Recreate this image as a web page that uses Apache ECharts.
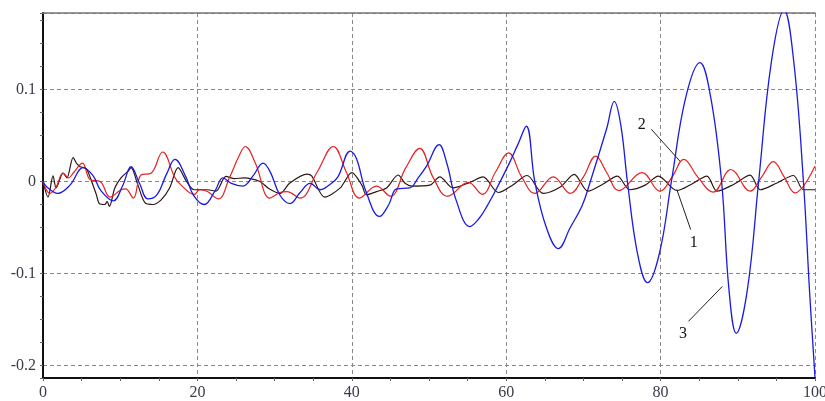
<!DOCTYPE html>
<html>
<head>
<meta charset="utf-8">
<script src="https://cdn.jsdelivr.net/npm/echarts@6/dist/echarts.min.js"></script>
<style>html,body{margin:0;padding:0;background:#fff}#c{width:825px;height:401px}</style>
</head>
<body>
<div id="c"></div>
<script>
// Curve 1 (dark)
var curve1 = [[0,0],[0.65,-0.017],[1.3,0.006],[1.7,-0.007],[2.6,0.009],[3.1,0.004],[3.9,0.026],[4.4,0.019],[4.8,0.016],[5.6,0.014],[6.3,0.0],[6.9,-0.014],[7.3,-0.024],[8,-0.025],[8.3,-0.022],[8.6,-0.027],[9.3,-0.007],[10.1,0.004],[11,0.011],[11.4,0.015],[12.3,-0.004],[13.2,-0.023],[14.25,-0.025],[15.3,-0.02],[16.4,-0.007],[17.5,0.015],[18.6,0.0],[19.6,-0.009],[21.3,-0.009],[22.4,-0.0105],[23.7,0.0055],[24.8,0.003],[26,0.004],[28.1,0],[29.3,-0.008],[30.7,-0.013],[32,-0.0015],[34.2,0.008],[34.8,0.006],[36.5,-0.017],[38.5,-0.007],[40,0.0095],[41.3,-0.004],[41.9,-0.0145],[43.2,-0.011],[44.5,-0.007],[46,0.007],[46.9,-0.002],[47.8,-0.005],[50.1,-0.004],[51.4,0.005],[53.1,-0.007],[55.3,-0.001],[57,0.005],[59,-0.012],[60.9,-0.0036],[62.7,0.0065],[64.8,-0.013],[67,-0.006],[68.8,0.0076],[70.6,-0.0106],[72.5,-0.003],[74.4,0.0058],[76,-0.009],[78,-0.004],[79.7,0.0058],[82.1,-0.0098],[84,-0.003],[86,0.0058],[87.3,-0.0106],[89.5,-0.003],[91.6,0.0069],[92.9,-0.009],[95,-0.002],[97.2,0.0065],[98.5,-0.009],[100,-0.009]];
// Curve 2 (red)
var curve2 = [[0,0],[0.9,-0.013],[1.7,-0.006],[2.6,0.009],[3.3,0.004],[4,0.010],[5.1,0.020],[6.1,0.002],[7.4,0],[8.7,-0.017],[10.1,-0.009],[10.7,-0.008],[11.7,-0.018],[12.7,0.007],[14,0.009],[15.5,0.032],[17.1,0.004],[17.9,-0.004],[19.6,-0.014],[20.3,-0.009],[21.3,-0.011],[22.7,-0.019],[24.2,0.005],[25.3,0.026],[26.2,0.038],[27.5,0.02],[29.4,-0.018],[30.7,-0.012],[31.6,-0.011],[33.3,-0.018],[35.5,0.01],[37.6,0.038],[39.3,0.01],[41,-0.018],[43.2,-0.005],[45,-0.016],[47,0.015],[48.8,0.036],[50.5,0.005],[52.4,-0.016],[55.1,-0.001],[56.9,-0.014],[58.6,0.01],[60.3,0.031],[62,0.005],[63.7,-0.013],[66.1,0.005],[68.3,-0.013],[70,0.005],[71.6,0.0276],[73,0.01],[74.6,-0.01],[77.6,0.0095],[79.9,-0.0106],[81.5,0.005],[83,0.024],[84.8,0.005],[86.8,-0.0116],[89.1,0.013],[91.6,-0.0106],[93.1,0.005],[94.6,0.0215],[96,0.005],[97.4,-0.0124],[100,0.0167]];
// Curve 3 (blue)
var curve3 = [[0,0],[0.5,-0.006],[1.9,-0.013],[3.5,-0.004],[5.2,0.015],[6.5,0.006],[7.5,-0.01],[9.1,-0.021],[10.3,-0.005],[11.4,0.016],[12.5,-0.002],[13.6,-0.019],[14.8,-0.014],[16,0.008],[17.1,0.024],[18.5,0.005],[19.5,-0.015],[20.9,-0.025],[22.3,-0.01],[23.3,0.004],[24.4,-0.002],[25.9,-0.005],[27.2,0.006],[28.5,0.020],[29.4,0.011],[30.7,-0.015],[32,-0.024],[33.3,-0.012],[34.6,-0.002],[35.9,-0.009],[37.2,-0.003],[38.2,0.005],[39.8,0.033],[40.6,0.025],[41.8,-0.01],[43.6,-0.038],[44.8,-0.025],[45.8,-0.008],[47.5,-0.007],[48.6,0.004],[49.7,0.017],[51.3,0.040],[52.3,0.02],[53.5,-0.02],[55.3,-0.049],[56.5,-0.04],[57.5,-0.027],[58.8,-0.007],[60.3,0.018],[61.5,0.04],[62.6,0.060],[63.7,0.0],[65.2,-0.05],[66.75,-0.073],[68.3,-0.05],[69.8,-0.027],[70.9,0.0],[73,0.057],[74,0.087],[74.85,0.061],[75.7,0.0],[77,-0.078],[78.3,-0.110],[79.85,-0.078],[81.4,0.0],[83.25,0.091],[85.1,0.129],[86.5,0.091],[87.9,0.0],[88.85,-0.117],[89.8,-0.165],[91.25,-0.117],[92.7,0.0],[94.35,0.13],[96,0.186],[97.25,0.13],[98.5,0.0],[99.3,-0.12],[100,-0.213]];
// x tick labels / y tick labels
var xTicks = [0, 20, 40, 60, 80, 100];
var yTickLabels = ['-0.2', '-0.1', '0', '0.1'];
// Curve number labels and leader lines [labelX, labelY, lineStartX, lineStartY, lineEndX, lineEndY]
var curveNames = ['1', '2', '3'];
var annotations = [
  [84.3, -0.0669, 83.9, -0.0523, 82.1, -0.0087],
  [77.55, 0.062, 78.8, 0.0567, 82.5, 0.0221],
  [82.9, -0.165, 83.6, -0.152, 88.0, -0.114]
];

var FONT = 'Liberation Serif';
var chart = echarts.init(document.getElementById('c'), null, {renderer: 'canvas'});

var markLines = annotations.map(function (a) {
  return [{coord: [a[2], a[3]]}, {coord: [a[4], a[5]]}];
});
var markPoints = annotations.map(function (a, i) {
  return {coord: [a[0], a[1]], name: curveNames[i]};
});

function fmtY(v) {
  var r = Math.round(v * 10) / 10;
  if (Math.abs(v - r) > 1e-6) return '';
  var s = r === 0 ? '0' : r.toFixed(1);
  return yTickLabels.indexOf(s) >= 0 ? s : '';
}

chart.setOption({
  animation: false,
  backgroundColor: '#fff',
  grid: {left: 43, right: 10, top: 13, bottom: 23, containLabel: false, outerBoundsMode: 'none'},
  xAxis: [{
    type: 'value', min: 0, max: 100, interval: 20,
    axisLine: {show: true, onZero: false, lineStyle: {color: '#111', width: 2}},
    axisTick: {show: true, length: 3, lineStyle: {color: '#666'}},
    minorTick: {show: true, splitNumber: 4, length: 3, lineStyle: {color: '#666'}},
    splitLine: {show: true, lineStyle: {color: '#888', type: [4, 3], width: 1}},
    axisLabel: {fontFamily: FONT, fontSize: 16, color: '#3a3a4a', margin: 7,
      formatter: function (v) { return xTicks.indexOf(v) >= 0 ? String(v) : ''; }}
  }, {
    type: 'value', min: 0, max: 100, position: 'top',
    axisLine: {show: true, onZero: false, lineStyle: {color: '#777', width: 1.5}},
    axisTick: {show: false}, axisLabel: {show: false}, splitLine: {show: false}
  }],
  yAxis: {
    type: 'value', min: -0.2135, max: 0.183, splitNumber: 4,
    axisLine: {show: true, onZero: false, lineStyle: {color: '#111', width: 2}},
    axisTick: {show: true, length: 3, lineStyle: {color: '#666'}},
    minorTick: {show: true, splitNumber: 4, length: 3, lineStyle: {color: '#666'}},
    splitLine: {show: true, lineStyle: {color: '#888', type: [4, 3], width: 1}},
    axisLabel: {fontFamily: FONT, fontSize: 16, color: '#3a3a4a', margin: 7,
      showMinLabel: false, showMaxLabel: false, formatter: fmtY}
  },
  series: [{
    name: '1', type: 'line', data: curve1, symbol: 'none', smooth: 0.3, clip: true,
    lineStyle: {color: '#2e1614', width: 1.2}, z: 3
  }, {
    name: '2', type: 'line', data: curve2, symbol: 'none', smooth: 0.4, clip: true,
    lineStyle: {color: '#e62222', width: 1.2}, z: 4
  }, {
    name: '3', type: 'line', data: curve3, symbol: 'none', smooth: 0.4, clip: true,
    lineStyle: {color: '#1a1ae0', width: 1.3}, z: 5,
    markLine: {
      silent: true, symbol: ['none', 'none'], animation: false,
      lineStyle: {color: '#222', width: 1, type: 'solid'},
      label: {show: false}, emphasis: {disabled: true},
      data: markLines
    },
    markPoint: {
      silent: true, symbol: 'circle', symbolSize: 0, animation: false,
      label: {show: true, position: 'inside', formatter: '{b}', fontFamily: FONT, fontSize: 16, color: '#111'},
      data: markPoints
    }
  }]
});
</script>
</body>
</html>
